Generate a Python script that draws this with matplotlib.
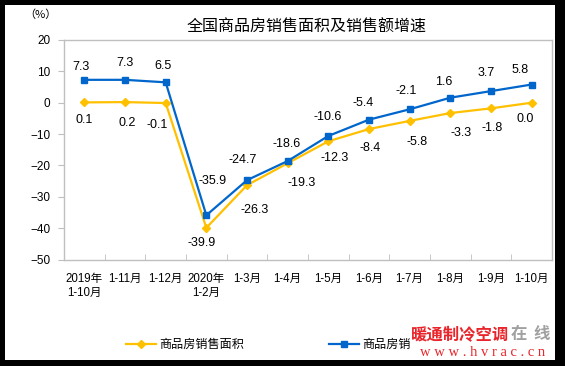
import matplotlib
matplotlib.use("Agg")
import matplotlib.pyplot as plt
from matplotlib.patches import Rectangle
from matplotlib.lines import Line2D

plt.rcParams['font.family'] = ['Liberation Sans', 'Noto Sans CJK SC', 'DejaVu Sans']

categories = ['2019年\n1-10月', '1-11月', '1-12月', '2020年\n1-2月', '1-3月', '1-4月',
              '1-5月', '1-6月', '1-7月', '1-8月', '1-9月', '1-10月']
area = [0.1, 0.2, -0.1, -39.9, -26.3, -19.3, -12.3, -8.4, -5.8, -3.3, -1.8, 0.0]
amount = [7.3, 7.3, 6.5, -35.9, -24.7, -18.6, -10.6, -5.4, -2.1, 1.6, 3.7, 5.8]
names = ['商品房销售面积', '商品房销售额']

# label offsets in pixels (dx, dy)
area_off = [(0, -18), (2, -21), (-8, -22), (-5, -15), (8, -25), (14, -20),
            (6, -17), (1, -19), (7, -21), (11, -20), (1, -20), (-6, -16)]
amount_off = [(-3, 13), (0, 17), (-3, 16), (6, 34), (-4, 20), (-1, 17),
              (-1, 19), (-6, 17), (-3, 18), (-7, 16), (-5, 18), (-12, 15)]

W, H = 565, 366
yellow = '#FFC000'
blue = '#0066CC'
grey = '#BFBFBF'

fig = plt.figure(figsize=(W / 100, H / 100), dpi=100, facecolor='black')
fig.patches.append(Rectangle((5 / W, 1 - 360 / H), 550 / W, 355 / H,
                             transform=fig.transFigure, facecolor='white',
                             edgecolor='none', zorder=-1))

ax = fig.add_axes([64 / W, 1 - 259.5 / H, (552 - 64) / W, (259.5 - 40) / H])
ax.set_facecolor('white')
x = range(len(categories))
ax.plot(x, area, color=yellow, lw=1.6, marker='D', ms=4.5, zorder=3)
ax.plot(x, amount, color=blue, lw=1.6, marker='s', ms=4.5, zorder=4)

for i in x:
    ax.annotate(f'{area[i]:.1f}', (i, area[i]), xytext=area_off[i],
                textcoords='offset pixels', ha='center', va='center', fontsize=9)
    ax.annotate(f'{amount[i]:.1f}', (i, amount[i]), xytext=amount_off[i],
                textcoords='offset pixels', ha='center', va='center', fontsize=9)

ax.set_xlim(-0.5, len(categories) - 0.5)
ax.set_ylim(-50, 20)
ax.set_yticks(range(-50, 21, 10))
ax.tick_params(axis='y', direction='out', length=4, color=grey, labelsize=8.5, pad=6)
ax.set_xticks(list(x))
ax.set_xticklabels(categories, fontsize=8.3, linespacing=1.15)
ax.set_xticks([i + 0.5 for i in range(len(categories) - 1)], minor=True)
ax.tick_params(axis='x', which='major', length=0, pad=10)
ax.tick_params(axis='x', which='minor', direction='in', length=4, color=grey)
for s in ax.spines.values():
    s.set_color(grey)
    s.set_linewidth(1)

fig.text(307 / W, 1 - 27 / H, '全国商品房销售面积及销售额增速', ha='center', va='center', fontsize=11.5)
fig.text(40 / W, 1 - 15 / H, '（%）', ha='center', va='center', fontsize=8,
         family='Noto Sans CJK SC')

handles = [Line2D([], [], color=yellow, lw=1.6, marker='D', ms=4.5),
           Line2D([], [], color=blue, lw=1.6, marker='s', ms=4.5)]
leg = fig.legend(handles, names, loc='center left', bbox_to_anchor=(126 / W, 1 - 345 / H),
                 ncol=2, frameon=False, fontsize=8.7, handlelength=2.5, columnspacing=7.0,
                 handletextpad=0.25, borderpad=0, borderaxespad=0)
leg.set_zorder(2)

# watermark (covers the end of the second legend entry, as in the source)
fig.patches.append(Rectangle((410 / W, 1 - 360 / H), 145 / W, 34 / H,
                             transform=fig.transFigure, facecolor='white',
                             edgecolor='none', zorder=5))
fig.text(411 / W, 1 - 334 / H, '暖通制冷空调', color='#E8252B', fontsize=11.8,
         fontweight='bold', ha='left', va='center', zorder=6, family='Noto Sans CJK SC')
for cx, ch in zip([519, 542], '在线'):
    fig.text(cx / W, 1 - 334 / H, ch, color='#A0A0A0', fontsize=11.8,
             fontweight='bold', ha='center', va='center', zorder=6, family='Noto Sans CJK SC')
fig.text(483 / W, 1 - 353 / H, 'w w w . h v r a c . c n', color='#E8252B', fontsize=10.5,
         ha='center', va='center', zorder=6, family='Liberation Serif')

fig.savefig('out.png', dpi=100, facecolor='black')
